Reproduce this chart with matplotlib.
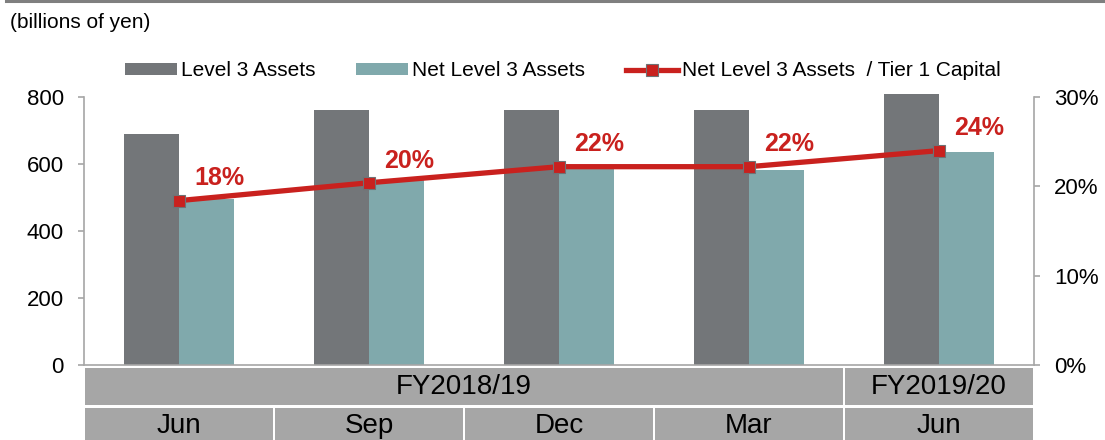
import matplotlib
matplotlib.use("Agg")
import matplotlib.pyplot as plt
from matplotlib.patches import Rectangle
from matplotlib.lines import Line2D
import numpy as np

plt.rcParams['font.family'] = ['Liberation Sans', 'DejaVu Sans']

# ---- data ----
quarters = ["Jun", "Sep", "Dec", "Mar", "Jun"]
fiscal_years = ["FY2018/19", "FY2019/20"]
fy_spans = [(0, 3), (4, 4)]  # first and last quarter index of each fiscal year
level3_assets = [690, 760, 760, 760, 808]
net_level3_assets = [495, 552, 588, 582, 636]
ratio_pct = [18.4, 20.4, 22.2, 22.2, 24.0]
ratio_labels = ["18%", "20%", "22%", "22%", "24%"]
left_ticks = [0, 200, 400, 600, 800]
right_ticks = [0, 10, 20, 30]

# ---- style ----
C_GRAY = "#737679"
C_TEAL = "#80A9AC"
C_RED = "#C9211E"
C_TABLE = "#A6A6A6"
C_SPINE = "#A6A6A6"

W, H = 1105, 440
fig = plt.figure(figsize=(W / 100, H / 100), dpi=100)

x0, x1 = 84, 1034
y_top, y_bot = 97, 365
ax = fig.add_axes([x0 / W, (H - y_bot) / H, (x1 - x0) / W, (y_bot - y_top) / H])

x = np.arange(len(quarters))
bw = 0.29
ax.bar(x - 0.145, level3_assets, width=bw, color=C_GRAY, label="Level 3 Assets",
       zorder=2, clip_on=False)
ax.bar(x + 0.145, net_level3_assets, width=bw, color=C_TEAL, label="Net Level 3 Assets",
       zorder=2, clip_on=False)
ax.set_xlim(-0.5, len(quarters) - 0.5)
ax.set_ylim(0, 800)
ax.set_yticks(left_ticks)
ax.set_yticklabels([str(v) for v in left_ticks], fontsize=16)
ax.set_xticks([])
for s in ["top", "right"]:
    ax.spines[s].set_visible(False)
for s in ["left", "bottom"]:
    ax.spines[s].set_color(C_SPINE)
    ax.spines[s].set_linewidth(1.2)
ax.tick_params(axis='y', length=4.5, width=1.2, color=C_SPINE, pad=10)

ax2 = ax.twinx()
ax2.plot(x, ratio_pct, color=C_RED, lw=3.8, marker='s', markersize=8,
         markerfacecolor=C_RED, markeredgecolor="#6f7275", markeredgewidth=0.8,
         label="Net Level 3 Assets  / Tier 1 Capital", zorder=3)
ax2.set_ylim(0, 30)
ax2.set_yticks(right_ticks)
ax2.set_yticklabels([f"{v}%" for v in right_ticks], fontsize=16)
for s in ["top", "left", "bottom"]:
    ax2.spines[s].set_visible(False)
ax2.spines["right"].set_color(C_SPINE)
ax2.spines["right"].set_linewidth(1.2)
ax2.tick_params(axis='y', length=4.5, width=1.2, color=C_SPINE, pad=10)

for xi, yi, lab in zip(x, ratio_pct, ratio_labels):
    ax2.annotate(lab, (xi, yi), xytext=(29, 16), textcoords='offset points',
                 ha='center', va='center', fontsize=18, fontweight='bold', color=C_RED)

# legend
h1, l1 = ax.get_legend_handles_labels()
h2, l2 = ax2.get_legend_handles_labels()
fig.legend(h1 + h2, l1 + l2, loc='center', bbox_to_anchor=(563 / W, (H - 71) / H),
           ncol=3, frameon=False, fontsize=15, handlelength=2.5, handleheight=0.55,
           handletextpad=0.2, columnspacing=1.95, borderaxespad=0, borderpad=0)

# category table
axt = fig.add_axes([x0 / W, 0, (x1 - x0) / W, (H - 368) / H])
axt.set_xlim(-0.5, len(quarters) - 0.5)
axt.set_ylim(0, H - 368)
axt.axis('off')
gap = 2 / 190
# row 1: fiscal years
for fy, (a, b) in zip(fiscal_years, fy_spans):
    xl = a - 0.5 + gap / 2
    xr = b + 0.5 - gap / 2
    axt.add_patch(Rectangle((xl, H - 405), xr - xl, 405 - 368, color=C_TABLE, lw=0))
    axt.text((xl + xr) / 2, H - 386.5, fy, ha='center', va='center', fontsize=20)
# row 2: quarters
for i, q in enumerate(quarters):
    xl = i - 0.5 + gap / 2
    xr = i + 0.5 - gap / 2
    axt.add_patch(Rectangle((xl, -10), xr - xl, (H - 408) + 10, color=C_TABLE, lw=0))
    axt.text(i, H - 426, q, ha='center', va='center', fontsize=20)

# title and top rule
fig.text(10 / W, (H - 22) / H, "(billions of yen)", ha='left', va='center', fontsize=15)
fig.add_artist(Line2D([6 / W, 1.0], [1 - 1 / H, 1 - 1 / H], color="#7f7f7f", lw=2.2,
                      transform=fig.transFigure))

fig.savefig("out.png", dpi=100)
